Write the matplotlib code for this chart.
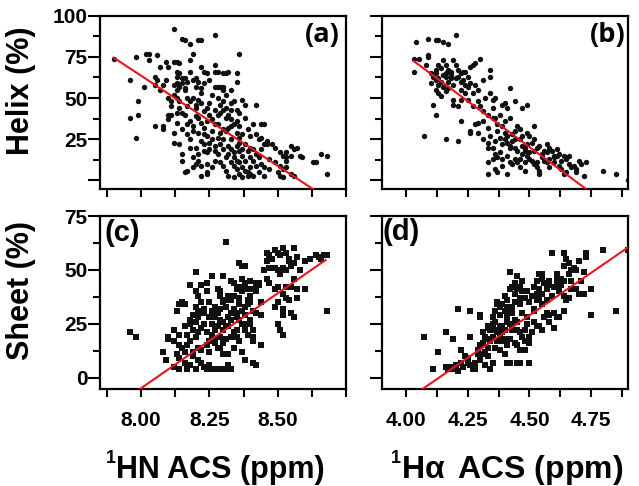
import matplotlib
matplotlib.use("Agg")
import matplotlib.pyplot as plt
from matplotlib.ticker import FixedLocator, NullFormatter

plt.rcParams["font.family"] = ["Liberation Sans", "DejaVu Sans"]
plt.rcParams["font.weight"] = "bold"
plt.rcParams["mathtext.fontset"] = "custom"
plt.rcParams["mathtext.rm"] = "Liberation Sans"
plt.rcParams["mathtext.bf"] = "Liberation Sans:bold"
plt.rcParams["mathtext.it"] = "Liberation Sans:italic"

# (a) 1HN ACS vs helix
hn_helix_x = [
    7.90, 7.96, 7.96, 7.98, 7.98, 7.99, 7.99, 8.01, 8.02, 8.03, 8.03, 8.05, 8.05, 8.05, 8.06, 8.07,
    8.06, 8.07, 8.08, 8.08, 8.08, 8.09, 8.09, 8.10, 8.10, 8.10, 8.10,
    8.12, 8.15, 8.16, 8.18, 8.21, 8.22, 8.27, 8.36, 8.19,
    8.12, 8.13, 8.14, 8.13, 8.14, 8.13, 8.15, 8.18, 8.20, 8.19, 8.21, 8.22, 8.23, 8.24, 8.27, 8.27,
    8.28, 8.30, 8.31, 8.32, 8.35, 8.35, 8.12, 8.13, 8.15, 8.17, 8.13, 8.16, 8.27, 8.28, 8.29, 8.30,
    8.30, 8.22, 8.22, 8.16, 8.17, 8.11, 8.13, 8.14, 8.19, 8.21, 8.22, 8.25, 8.24, 8.30, 8.33, 8.34,
    8.37, 8.38, 8.42, 8.33, 8.35, 8.36, 8.30, 8.29, 8.14, 8.13, 8.15, 8.11, 8.38, 8.41, 8.44, 8.45,
    8.12, 8.12, 8.14, 8.15, 8.15, 8.16, 8.17,
    8.18, 8.19, 8.19, 8.18, 8.20, 8.21, 8.22, 8.23, 8.21, 8.17, 8.20, 8.23,
    8.20, 8.21, 8.21, 8.20, 8.22, 8.19, 8.23,
    8.24, 8.25, 8.25, 8.24, 8.27, 8.24, 8.24, 8.24, 8.27, 8.29, 8.26, 8.27, 8.26,
    8.28, 8.29, 8.30, 8.31, 8.32, 8.33, 8.34, 8.35, 8.31, 8.28,
    8.32, 8.33, 8.34, 8.35, 8.36, 8.34, 8.33, 8.36,
    8.31, 8.34, 8.36, 8.37, 8.39, 8.39, 8.40, 8.41, 8.43, 8.37, 8.38,
    8.39, 8.40, 8.41, 8.42, 8.43, 8.44, 8.45, 8.47, 8.38, 8.40,
    8.42, 8.43, 8.44, 8.46, 8.46, 8.45,
    8.48, 8.49, 8.51, 8.52, 8.53, 8.49, 8.51, 8.52, 8.53, 8.55, 8.56, 8.51, 8.52,
    8.53, 8.55, 8.56, 8.57, 8.55, 8.53, 8.58, 8.59,
    8.63, 8.64, 8.66, 8.68, 8.68,
    8.35, 8.36, 8.35, 8.37, 8.38, 8.40, 8.41, 8.32, 8.30, 8.29, 8.31, 8.33, 8.36, 8.37, 8.39, 8.40,
    8.22, 8.23, 8.26, 8.28, 8.24, 8.25, 8.27, 8.29, 8.31, 8.32, 8.33, 8.35, 8.36, 8.18, 8.17,
    8.11, 8.12, 8.14, 8.16, 8.18, 8.20, 8.23, 8.25, 8.26, 8.28, 8.31, 8.33, 8.18, 8.20, 8.16, 8.17,
    8.15, 8.13, 8.19, 8.22, 8.26, 8.28, 8.30, 8.32, 8.34, 8.37, 8.42, 8.44, 8.47, 8.50, 8.45, 8.27,
    8.30, 8.23,
]
hn_helix_y = [
    74, 61, 38, 75, 26, 48, 40, 57, 77, 77, 73, 33, 63, 58, 76, 69,
    61, 55, 58, 33, 31, 72, 61, 69, 50, 40, 37,
    92, 86, 85, 83, 85, 85, 88, 77, 77,
    72, 72, 71, 66, 65, 63, 62, 73, 62, 61, 60, 69, 66, 65, 70, 66,
    66, 65, 65, 66, 65, 60, 58, 59, 59, 60, 55, 56, 57, 57, 57, 57,
    55, 56, 53, 55, 50, 48, 50, 48, 50, 49, 47, 47, 44, 48, 47, 48,
    49, 46, 46, 43, 43, 41, 43, 41, 44, 41, 41, 40, 38, 34, 34, 34,
    29, 23, 22, 16, 12, 5, 6,
    36, 33, 30, 25, 39, 38, 35, 32, 29, 45, 44, 42,
    20, 16, 12, 10, 9, 14, 18,
    27, 23, 19, 17, 18, 10, 5, 4, 12, 11, 30, 34, 37,
    34, 29, 25, 30, 32, 33, 34, 29, 38, 40,
    21, 19, 17, 21, 18, 14, 25, 26,
    6, 9, 11, 8, 5, 3, 4, 3, 5, 2, 6,
    18, 14, 12, 16, 14, 10, 8, 7, 22, 20,
    28, 25, 26, 24, 22, 22,
    22, 20, 17, 15, 14, 11, 9, 7, 8, 4, 3, 3, 2,
    17, 15, 19, 20, 21, 12, 15, 14,
    11, 11, 16, 15, 4,
    7, 4, 12, 15, 12, 8, 19, 16, 19, 22, 14, 11, 23, 28, 31, 27,
    24, 28, 25, 26, 36, 40, 43, 46, 44, 40, 37, 36, 33, 20, 28,
    45, 52, 57, 62, 66, 57, 59, 61, 52, 50, 52, 55, 48, 46, 40, 34,
    31, 35, 8, 3, 8, 16, 9, 3, 2, 19, 9, 19, 13, 5, 3, 21,
    31, 22,
]

# (b) 1Ha ACS vs helix
ha_helix_x = [
    4.04, 4.09, 4.12, 4.13, 4.15, 4.17, 4.20,
    4.03, 4.05, 4.03, 4.09, 4.09, 4.08,
    4.12, 4.12, 4.15, 4.17, 4.18, 4.16, 4.18, 4.15, 4.19, 4.14,
    4.21, 4.22, 4.23, 4.24, 4.26, 4.27, 4.28, 4.30, 4.34, 4.34,
    4.10, 4.12, 4.13, 4.14, 4.15, 4.17, 4.19, 4.22, 4.24, 4.25, 4.26, 4.28, 4.31,
    4.12, 4.13, 4.14, 4.16, 4.19, 4.19, 4.21, 4.22, 4.25, 4.27,
    4.11, 4.12, 4.22, 4.07, 4.16, 4.21,
    4.29, 4.30, 4.32, 4.34, 4.35, 4.36,
    4.39, 4.40, 4.41, 4.42, 4.44, 4.47, 4.49,
    4.28, 4.29, 4.31, 4.33, 4.35, 4.36, 4.37,
    4.26, 4.26, 4.29, 4.31, 4.33, 4.33, 4.34,
    4.35, 4.36, 4.37, 4.38, 4.39, 4.35, 4.33, 4.33, 4.37,
    4.39, 4.40, 4.40, 4.41, 4.42, 4.42, 4.43, 4.44, 4.45, 4.46, 4.46, 4.47, 4.48, 4.48,
    4.41, 4.42, 4.43, 4.44, 4.45, 4.46, 4.48,
    4.49, 4.50, 4.51, 4.52, 4.52, 4.53, 4.54, 4.52,
    4.50, 4.52, 4.53, 4.54, 4.54, 4.53,
    4.57, 4.58, 4.57, 4.56, 4.60, 4.60, 4.61, 4.62, 4.64, 4.65, 4.66,
    4.57, 4.60, 4.62, 4.63, 4.64, 4.65, 4.68, 4.69, 4.69, 4.72,
    4.73, 4.80, 4.85, 4.90,
    4.43, 4.45, 4.47, 4.49, 4.50, 4.44, 4.41, 4.39, 4.38, 4.36, 4.37, 4.46, 4.48, 4.56, 4.55, 4.58, 4.59,
    4.18, 4.20, 4.21, 4.16, 4.23, 4.25, 4.13, 4.17,
    4.10, 4.11, 4.13, 4.16, 4.20, 4.22, 4.24, 4.27, 4.29, 4.31, 4.33, 4.35, 4.38, 4.40, 4.42,
    4.44, 4.47, 4.49, 4.51, 4.55, 4.58, 4.61, 4.63, 4.66, 4.67, 4.70, 4.71, 4.39, 4.41, 4.36,
]
ha_helix_y = [
    84, 86, 85, 85, 84, 83, 88,
    74, 74, 66, 76, 75, 70,
    67, 65, 64, 67, 66, 63, 62, 73, 73, 68,
    67, 65, 66, 66, 69, 70, 71, 74, 67, 63,
    59, 61, 62, 60, 57, 60, 58, 60, 58, 57, 59, 58, 61,
    55, 53, 51, 54, 49, 46, 45, 49, 49, 45,
    46, 40, 36, 27, 25, 24,
    48, 45, 50, 53, 49, 50,
    46, 47, 44, 56, 48, 44, 46,
    34, 35, 36, 32, 38, 38, 34,
    30, 29, 29, 25, 23, 20, 27,
    20, 16, 14, 17, 13, 13, 11, 4, 5,
    33, 29, 25, 23, 20, 21, 24, 25, 33, 31, 25, 21, 18, 20,
    15, 11, 10, 13, 11, 13, 11,
    29, 27, 23, 25, 33, 20, 21, 18,
    13, 10, 8, 4, 6, 11,
    22, 20, 17, 18, 15, 14, 15, 16, 15, 13, 15,
    11, 11, 9, 7, 4, 5, 9, 7, 5, 3,
    11, 6, 4, 0,
    28, 18, 16, 22, 17, 20, 27, 22, 26, 24, 30, 8, 6, 12, 14, 8, 18,
    64, 62, 63, 65, 61, 63, 58, 56,
    65, 63, 70, 70, 70, 55, 53, 53, 55, 42, 40, 44, 40, 36, 38,
    30, 27, 15, 12, 16, 13, 19, 12, 10, 8, 12, 10, 9, 4, 7,
]

# (c) 1HN ACS vs sheet
hn_sheet_x = [
    7.96, 7.98, 8.08, 8.09, 8.20, 8.31,
    8.10, 8.10, 8.12,
    8.13, 8.14, 8.15, 8.16,
    8.12, 8.14, 8.15, 8.13, 8.14, 8.12, 8.14, 8.16, 8.17,
    8.16, 8.18, 8.18, 8.19, 8.19, 8.21, 8.20, 8.18,
    8.21, 8.22, 8.23, 8.23, 8.21, 8.21,
    8.24, 8.25,
    8.19, 8.21, 8.22, 8.23, 8.24, 8.26, 8.27, 8.28, 8.29, 8.30, 8.31, 8.33,
    8.21, 8.22, 8.24, 8.25, 8.27, 8.27, 8.28, 8.29, 8.30, 8.32,
    8.25, 8.26, 8.27, 8.28, 8.29, 8.30, 8.30, 8.31, 8.32,
    8.28, 8.29, 8.29, 8.30, 8.31, 8.32, 8.33,
    8.34, 8.35, 8.35, 8.36, 8.37, 8.38, 8.38, 8.39, 8.40, 8.40, 8.41, 8.41, 8.41,
    8.35, 8.36, 8.37, 8.37, 8.38, 8.38, 8.39, 8.40, 8.41, 8.42, 8.43, 8.43,
    8.36, 8.37, 8.38,
    8.37, 8.38, 8.41, 8.42,
    8.39, 8.40, 8.42, 8.44, 8.44,
    8.44,
    8.46, 8.47, 8.49, 8.50, 8.51, 8.52, 8.53, 8.54, 8.56, 8.57,
    8.46, 8.47, 8.49, 8.50, 8.52, 8.53, 8.54, 8.55, 8.56,
    8.46, 8.47, 8.49, 8.50, 8.52, 8.53, 8.55, 8.56, 8.57, 8.60,
    8.49, 8.50, 8.52, 8.52, 8.54, 8.55, 8.56, 8.57,
    8.50, 8.52, 8.51,
    8.64, 8.65, 8.66, 8.67, 8.68, 8.68, 8.60,
    8.17, 8.20, 8.22, 8.24, 8.26, 8.27, 8.28, 8.31, 8.33, 8.34, 8.35, 8.36, 8.33, 8.31, 8.34,
    8.36, 8.33, 8.34, 8.30, 8.24, 8.20, 8.18, 8.26, 8.35, 8.38, 8.39,
    8.14, 8.16, 8.17, 8.19, 8.20, 8.22, 8.23, 8.25, 8.26, 8.27, 8.29, 8.29, 8.30, 8.32, 8.33,
    8.34, 8.36, 8.37, 8.38, 8.39, 8.40, 8.41, 8.42, 8.45, 8.48, 8.51, 8.53, 8.58, 8.62, 8.18,
    8.20, 8.25, 8.32,
]
hn_sheet_y = [
    21, 19, 12, 8, 49, 63,
    19, 18, 22,
    31, 34, 35, 34,
    17, 15, 14, 11, 9, 5, 4, 7, 4,
    24, 25, 27, 29, 22, 21, 19, 17,
    38, 35, 32, 30, 28, 31,
    40, 35,
    10, 8, 7, 5, 4, 4, 4, 4, 4, 4, 4, 4,
    14, 13, 15, 17, 18, 16, 14, 14, 11, 11,
    28, 25, 22, 24, 27, 26, 22, 24, 28,
    41, 38, 40, 35, 36, 38, 36,
    32, 30, 28, 27, 25, 24, 22, 25, 27, 25, 22, 19, 17,
    41, 42, 40, 46, 44, 41, 41, 38, 41, 44, 43, 44,
    53, 52, 52,
    12, 8, 7, 6,
    34, 35, 30, 29, 35,
    15,
    58, 57, 59, 58, 57, 60, 58, 55, 60, 56,
    54, 51, 51, 50, 51, 50, 54, 52, 53,
    46, 44, 41, 42, 39, 37, 42, 46, 41, 41,
    33, 35, 29, 32, 36, 30, 28, 37,
    25, 20, 22,
    57, 56, 55, 57, 57, 31, 54,
    20, 26, 23, 21, 31, 33, 30, 33, 30, 21, 19, 17, 19, 18, 14,
    37, 45, 44, 47, 44, 40, 43, 47, 22, 33, 36,
    20, 12, 15, 12, 33, 43, 25, 12, 20, 28, 32, 19, 16, 24, 27,
    38, 34, 31, 29, 20, 45, 31, 40, 50, 55, 48, 42, 50, 55, 6,
    4, 6, 6,
]

# (d) 1Ha ACS vs sheet
ha_sheet_x = [
    4.07, 4.11, 4.13, 4.16, 4.19,
    4.16, 4.17, 4.18, 4.19, 4.20, 4.21, 4.20,
    4.21, 4.26, 4.26,
    4.22, 4.24, 4.25, 4.25, 4.27, 4.28, 4.28,
    4.29, 4.29, 4.30, 4.31, 4.31, 4.32, 4.33, 4.33, 4.34, 4.35,
    4.30, 4.30,
    4.31, 4.32, 4.33, 4.33, 4.34, 4.35, 4.35, 4.36, 4.37, 4.37, 4.38, 4.39,
    4.35, 4.37, 4.38, 4.39, 4.39, 4.40, 4.41, 4.36, 4.38, 4.40,
    4.41, 4.42, 4.45, 4.46, 4.50,
    4.42,
    4.40, 4.41, 4.42, 4.43, 4.44, 4.45, 4.45, 4.46, 4.47,
    4.41, 4.42, 4.43, 4.43, 4.45, 4.46, 4.47, 4.48, 4.48, 4.49, 4.50, 4.50, 4.46, 4.44,
    4.50, 4.52, 4.52, 4.53, 4.54, 4.54, 4.55, 4.52, 4.53, 4.55,
    4.56, 4.57, 4.58, 4.60, 4.61, 4.61,
    4.52, 4.53, 4.54, 4.56, 4.57, 4.58, 4.60, 4.61, 4.60,
    4.54, 4.55, 4.58, 4.61,
    4.64, 4.62,
    4.59, 4.64, 4.65, 4.66, 4.64, 4.68, 4.69, 4.73, 4.73, 4.80,
    4.63, 4.64, 4.67, 4.71, 4.72,
    4.67, 4.69, 4.70, 4.72, 4.64, 4.65, 4.66, 4.75,
    4.75, 4.85, 4.90,
    4.36, 4.38, 4.40, 4.41, 4.43, 4.44, 4.46, 4.47, 4.49, 4.48, 4.44, 4.42, 4.45, 4.39, 4.37,
    4.22, 4.23, 4.26, 4.30, 4.32, 4.33, 4.34, 4.36, 4.38, 4.40, 4.41, 4.42, 4.43, 4.44, 4.46,
    4.47, 4.49, 4.51, 4.53, 4.55, 4.57, 4.59, 4.62, 4.63, 4.66, 4.67, 4.70, 4.45, 4.48, 4.51,
    4.55, 4.58,
]
ha_sheet_y = [
    19, 4, 12, 21, 18,
    5, 4, 5, 4, 6, 3, 5,
    32, 31, 19,
    13, 10, 7, 9, 4, 4, 7,
    11, 13, 15, 11, 16, 12, 14, 10, 4, 7,
    29, 28,
    21, 19, 23, 24, 22, 25, 28, 31, 34, 35, 33, 34,
    19, 17, 19, 21, 17, 18, 15, 14, 13, 11,
    7, 7, 7, 7, 7,
    49,
    38, 36, 41, 42, 44, 47, 41, 42, 40,
    28, 25, 22, 24, 26, 21, 19, 17, 22, 25, 19, 16, 13, 16,
    35, 32, 31, 36, 37, 41, 39, 42, 45, 46,
    44, 41, 43, 42, 46, 43,
    26, 24, 24, 28, 30, 29, 30, 28, 23,
    48, 48, 45, 48,
    31, 28,
    58, 58, 55, 53, 52, 51, 50, 58, 56, 59,
    46, 45, 45, 45, 49,
    41, 41, 39, 39, 38, 36, 37, 41,
    29, 31, 59,
    26, 29, 31, 33, 30, 35, 34, 30, 28, 37, 27, 18, 15, 24, 21,
    7, 5, 6, 8, 6, 18, 17, 22, 24, 22, 26, 30, 33, 39, 37,
    45, 40, 38, 39, 34, 36, 38, 40, 43, 48, 50, 54, 22, 13, 21,
    22, 26,
]

# fitted lines: slope, intercept, x start, x end
fit_a = (-109.4, 938.8, 7.90, 8.64)
fit_b = (-111.0, 519.8, 4.03, 4.74)
fit_c = (88.1, -709.7, 7.99, 8.675)
fit_d = (78.7, -325.2, 4.06, 4.90)

HN_LIM = (7.85, 8.75)
HA_LIM = (3.90, 4.90)
W, H = 639, 486

fig = plt.figure(figsize=(W / 100, H / 100), dpi=100)


def px_axes(left, top, right, bottom):
    return fig.add_axes([left / W, 1 - bottom / H, (right - left) / W, (bottom - top) / H])


ax_a = px_axes(100, 15.7, 346, 188.7)
ax_b = px_axes(381.7, 15.7, 628, 188.7)
ax_c = px_axes(100, 216, 346, 388.5)
ax_d = px_axes(381.7, 216, 628, 388.5)

panels = [
    (ax_a, hn_helix_x, hn_helix_y, "o", fit_a, HN_LIM, (-5, 100)),
    (ax_b, ha_helix_x, ha_helix_y, "o", fit_b, HA_LIM, (-5, 100)),
    (ax_c, hn_sheet_x, hn_sheet_y, "s", fit_c, HN_LIM, (-5, 75)),
    (ax_d, ha_sheet_x, ha_sheet_y, "s", fit_d, HA_LIM, (-5, 75)),
]

for ax, xs, ys, mk, fit, xlim, ylim in panels:
    size = 15 if mk == "o" else 14
    ax.scatter(xs, ys, s=size, marker=mk, c="#111111", linewidths=0, zorder=2)
    k, b, x0, x1 = fit
    ax.plot([x0, x1], [k * x0 + b, k * x1 + b], color="#e8141c", lw=1.5, zorder=3)
    ax.set_xlim(*xlim)
    ax.set_ylim(*ylim)
    for sp in ax.spines.values():
        sp.set_linewidth(1.6)
    ax.tick_params(axis="both", which="both", direction="out", width=1.5, labelsize=15)
    ax.tick_params(axis="x", which="both", length=5.5, pad=11)
    ax.tick_params(axis="y", which="major", length=9, pad=0)
    ax.tick_params(axis="y", which="minor", length=5)

# x ticks
for ax in (ax_a, ax_c):
    ax.xaxis.set_major_locator(FixedLocator([8.00, 8.25, 8.50]))
    ax.xaxis.set_minor_locator(FixedLocator([7.875, 8.125, 8.375, 8.625, 8.75]))
for ax in (ax_b, ax_d):
    ax.xaxis.set_major_locator(FixedLocator([4.00, 4.25, 4.50, 4.75]))
    ax.xaxis.set_minor_locator(FixedLocator([4.125, 4.375, 4.625, 4.875]))
ax_c.set_xticklabels(["8.00", "8.25", "8.50"])
ax_d.set_xticklabels(["4.00", "4.25", "4.50", "4.75"])
for ax in (ax_a, ax_b):
    ax.xaxis.set_major_formatter(NullFormatter())

# y ticks
for ax in (ax_a, ax_b):
    ax.yaxis.set_major_locator(FixedLocator([0, 25, 50, 75, 100]))
    ax.yaxis.set_minor_locator(FixedLocator([12.5, 37.5, 62.5, 87.5]))
for ax in (ax_c, ax_d):
    ax.yaxis.set_major_locator(FixedLocator([0, 25, 50, 75]))
    ax.yaxis.set_minor_locator(FixedLocator([12.5, 37.5, 62.5]))
ax_a.set_yticklabels(["", "25", "50", "75", "100"])
ax_c.set_yticklabels(["0", "25", "50", "75"])
for ax in (ax_b, ax_d):
    ax.yaxis.set_major_formatter(NullFormatter())

# panel tags
ax_a.text(0.975, 0.965, "(a)", transform=ax_a.transAxes, ha="right", va="top",
          fontsize=19.5, fontweight="bold", family=["Open Sans", "DejaVu Sans"])
ax_b.text(0.99, 0.965, "(b)", transform=ax_b.transAxes, ha="right", va="top",
          fontsize=19.5, fontweight="bold", family=["Open Sans", "DejaVu Sans"])
ax_c.text(0.02, 0.985, "(c)", transform=ax_c.transAxes, ha="left", va="top",
          fontsize=21, fontweight="bold")
ax_d.text(0.005, 0.99, "(d)", transform=ax_d.transAxes, ha="left", va="top",
          fontsize=21, fontweight="bold")

# axis titles
fig.text(21 / W, 1 - 91 / H, "Helix (%)", rotation=90, ha="center", va="center",
         fontsize=22, fontweight="bold")
fig.text(21 / W, 1 - 290 / H, "Sheet (%)", rotation=90, ha="center", va="center",
         fontsize=22, fontweight="bold")

# x titles: small superscript "1" placed ahead of the main text
fig.text(106 / W, 1 - 463 / H, "1", ha="left", va="baseline", fontsize=13, fontweight="bold")
fig.text(116 / W, 1 - 478 / H, "HN ACS (ppm)", ha="left", va="baseline",
         fontsize=22, fontweight="bold")
fig.text(391 / W, 1 - 463 / H, "1", ha="left", va="baseline", fontsize=13, fontweight="bold")
fig.text(401 / W, 1 - 478 / H, r"H$\mathrm{\alpha}\,$ ACS (ppm)", ha="left", va="baseline",
         fontsize=23, fontweight="bold")

fig.savefig("out.png", dpi=100)
